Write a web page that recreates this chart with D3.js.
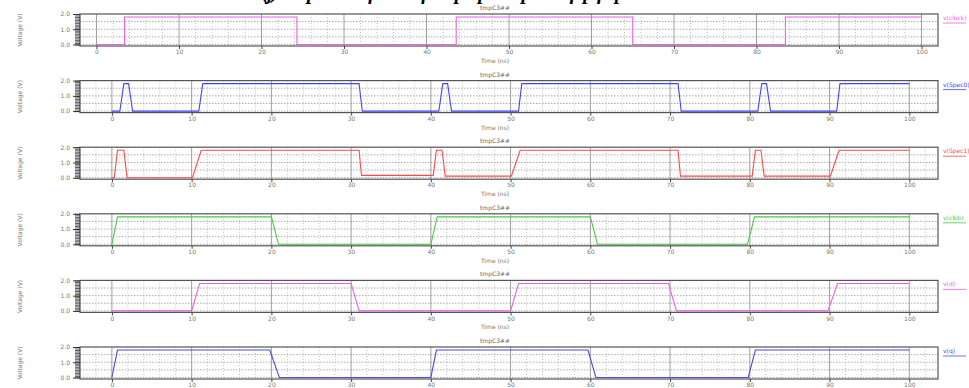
<!DOCTYPE html>
<html>
<head>
<meta charset="utf-8">
<script src="https://cdn.jsdelivr.net/npm/d3@7"></script>
<style>
  body { margin: 0; background: #fff; }
  svg { display: block; }
  .tick text { font-family: "DejaVu Sans", sans-serif; font-size: 6px; fill: #777; }
</style>
</head>
<body>
<div id="chart"></div>
<script>
// tick labels
const timeTicks = [0, 10, 20, 30, 40, 50, 60, 70, 80, 90, 100];
const voltTicks = [0.0, 1.0, 2.0];

// titles / legend names per panel
const panelTitles = ["tmpC3##", "tmpC3##", "tmpC3##", "tmpC3##", "tmpC3##", "tmpC3##"];
const legendNames = ["v(clock)", "v(Spec0)", "v(Spec1)", "v(clkb)", "v(d)", "v(q)"];

// waveforms, [time ns, volts]
const clockWave = [[0, 0], [3.4, 0], [3.4, 1.8], [24.3, 1.8], [24.3, 0], [43.6, 0], [43.6, 1.8],
  [65.0, 1.8], [65.0, 0], [83.5, 0], [83.5, 1.8], [100, 1.8]];
const spec0Wave = [[0, 0], [1.0, 0], [1.5, 1.8], [2.1, 1.8], [2.6, 0], [10.9, 0], [11.4, 1.8],
  [31.0, 1.8], [31.4, 0], [41.0, 0], [41.5, 1.8], [42.1, 1.8], [42.6, 0], [51.0, 0], [51.4, 1.8],
  [71.0, 1.8], [71.4, 0], [81.0, 0], [81.5, 1.8], [82.1, 1.8], [82.6, 0], [90.9, 0], [91.3, 1.8], [100, 1.8]];
const spec1Wave = [[0, 0], [0.3, 0], [0.7, 1.8], [1.5, 1.8], [1.9, 0], [10.1, 0], [11.2, 1.8],
  [31.0, 1.8], [31.3, 0.15], [40.3, 0.15], [40.7, 1.8], [41.4, 1.8], [41.8, 0.1], [50.1, 0.1], [51.2, 1.8],
  [71.0, 1.8], [71.3, 0.1], [80.3, 0.1], [80.7, 1.8], [81.4, 1.8], [81.8, 0.1], [90.1, 0.1], [91.2, 1.8], [100, 1.8]];
const clkbWave = [[0, 0], [0.7, 1.8], [20.0, 1.8], [20.9, 0], [40.0, 0], [40.8, 1.8], [60.0, 1.8],
  [60.9, 0], [79.7, 0], [80.6, 1.8], [100, 1.8]];
const dWave = [[0, 0], [10.0, 0], [11.0, 1.8], [30.0, 1.8], [31.0, 0], [50.0, 0], [51.0, 1.8],
  [69.8, 1.8], [70.8, 0], [89.8, 0], [91.0, 1.8], [100, 1.8]];
const qWave = [[0, 0], [0.7, 1.8], [19.8, 1.8], [21.0, 0], [40.0, 0], [40.7, 1.8], [59.7, 1.8],
  [60.7, 0], [79.8, 0], [80.7, 1.8], [100, 1.8]];

const waves = [clockWave, spec0Wave, spec1Wave, clkbWave, dWave, qWave];
const colors = ["#f060e8", "#4444ff", "#ff4848", "#44cc44", "#e860e8", "#4b4bdc"];
// first panel has a slightly different time range than the others
const timeDomains = [[-2, 102], [-4, 103.6], [-4, 103.6], [-4, 103.6], [-4, 103.6], [-4, 103.6]];

const width = 969, height = 388;
const left = 80, right = 938;
const panelTop = 14, panelStep = 66.6, panelH = 32;

const svg = d3.select("#chart").append("svg")
  .attr("width", width)
  .attr("height", height);

// caption cut off at the top of the picture (only its descenders show)
svg.append("text")
  .attr("x", 262).attr("y", -1)
  .attr("textLength", 363)
  .style("font-family", "Liberation Serif, serif")
  .style("font-weight", "bold").style("font-style", "italic")
  .style("font-size", "20px")
  .text("(j) Output waveforms of the proposed pulsed flip-flop");

waves.forEach((wave, i) => {
  const top = panelTop + i * panelStep;
  const g = svg.append("g").attr("transform", `translate(0,${top})`);

  const x = d3.scaleLinear().domain(timeDomains[i]).range([left, right]);
  const y = d3.scaleLinear().domain([-0.1, 2.0]).range([panelH, 0]);

  // minor vertical grid (dotted)
  const minor = d3.range(-4, 104, 2).filter(t => t > x.domain()[0] && t < x.domain()[1] && t % 10 !== 0);
  g.append("g").selectAll("line").data(minor).enter().append("line")
    .attr("x1", d => x(d)).attr("x2", d => x(d))
    .attr("y1", 0).attr("y2", panelH)
    .attr("stroke", "#999").attr("stroke-width", 0.6).attr("stroke-dasharray", "1,2");

  // major vertical grid
  g.append("g").selectAll("line").data(timeTicks).enter().append("line")
    .attr("x1", d => x(d)).attr("x2", d => x(d))
    .attr("y1", 0).attr("y2", panelH)
    .attr("stroke", "#888").attr("stroke-width", 0.8);

  // horizontal grid (dotted)
  g.append("g").selectAll("line").data([0, 0.5, 1.0, 1.5]).enter().append("line")
    .attr("x1", left).attr("x2", right)
    .attr("y1", d => y(d)).attr("y2", d => y(d))
    .attr("stroke", "#888").attr("stroke-width", 0.7).attr("stroke-dasharray", "1.5,1.5");

  // trace
  const line = d3.line().x(d => x(d[0])).y(d => y(d[1]));
  g.append("path")
    .datum(wave)
    .attr("fill", "none")
    .attr("stroke", colors[i])
    .attr("stroke-width", 1.1)
    .attr("d", line);

  // frame
  g.append("rect")
    .attr("x", left).attr("y", 0)
    .attr("width", right - left).attr("height", panelH)
    .attr("fill", "none").attr("stroke", "#555").attr("stroke-width", 1.2);

  // x axis
  const xAxis = g.append("g").attr("transform", `translate(0,${panelH})`)
    .call(d3.axisBottom(x).tickValues(timeTicks).tickSize(3).tickPadding(1));
  xAxis.select(".domain").remove();
  xAxis.selectAll(".tick line").attr("stroke", "#444");

  // y axis, dense minor ticks + labelled majors
  const yMinor = g.append("g").attr("transform", `translate(${left},0)`)
    .call(d3.axisLeft(y).tickValues(d3.range(0, 21).map(k => k / 10)).tickSize(5).tickFormat(""));
  yMinor.select(".domain").remove();
  yMinor.selectAll(".tick line").attr("stroke", "#333").attr("stroke-width", 0.8);

  const yAxis = g.append("g").attr("transform", `translate(${left},0)`)
    .call(d3.axisLeft(y).tickValues(voltTicks).tickSize(7).tickPadding(3).tickFormat(d3.format(".1f")));
  yAxis.select(".domain").remove();
  yAxis.selectAll(".tick line").attr("stroke", "#333");

  // labels
  g.append("text")
    .attr("transform", `translate(22,${panelH / 2}) rotate(-90)`)
    .attr("text-anchor", "middle")
    .style("font-family", "DejaVu Sans, sans-serif").style("font-size", "6px").style("fill", "#777")
    .text("Voltage (V)");

  g.append("text")
    .attr("x", 495).attr("y", panelH + 17)
    .attr("text-anchor", "middle")
    .style("font-family", "DejaVu Sans, sans-serif").style("font-size", "6px").style("fill", "#777")
    .text("Time (ns)");

  g.append("text")
    .attr("x", 495).attr("y", -4)
    .attr("text-anchor", "middle")
    .style("font-family", "DejaVu Sans, sans-serif").style("font-size", "6px").style("fill", "#666")
    .text(panelTitles[i]);

  // legend
  g.append("text")
    .attr("x", 943).attr("y", 6)
    .style("font-family", "DejaVu Sans, sans-serif").style("font-size", "6px").style("fill", colors[i])
    .text(legendNames[i]);
  g.append("line")
    .attr("x1", 943).attr("x2", 966).attr("y1", 9).attr("y2", 9)
    .attr("stroke", colors[i]).attr("stroke-width", 0.8);
});
</script>
</body>
</html>
